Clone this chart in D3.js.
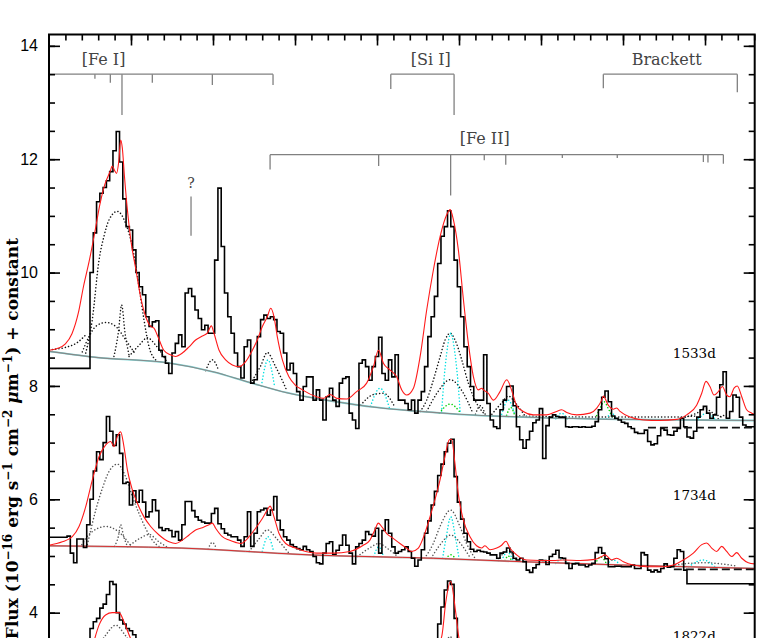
<!DOCTYPE html>
<html>
<head>
<meta charset="utf-8">
<script src="https://cdn.jsdelivr.net/npm/d3@7"></script>
<style>
  body { margin: 0; background: #fff; }
  svg { display: block; }
</style>
</head>
<body>
<svg id="chart" width="784" height="638"></svg>
<script>
// spectra are binned at 0.002 micron, first bin centred on 1.400 micron
const wave0 = 1.400, binStep = 0.002;

const flux1533 = [
  8.31,8.31,8.31,8.31,8.31,8.31,8.31,8.31,8.31,8.31,
  8.31,8.31,8.31,10.00,10.70,11.25,11.40,11.50,11.62,11.78,
  12.15,12.49,11.95,11.30,10.81,10.75,10.40,10.00,9.75,9.61,
  9.22,9.05,9.13,9.15,8.63,8.52,8.40,8.22,8.58,8.75,
  8.90,8.69,9.64,9.72,9.58,9.34,9.19,8.99,9.07,8.93,
  8.93,10.22,11.49,10.46,9.64,9.22,8.93,8.58,8.34,8.14,
  8.69,8.81,8.05,8.11,8.87,9.17,9.25,9.19,9.22,9.17,
  8.96,8.93,8.58,8.28,8.40,8.22,7.90,7.75,7.99,8.16,
  8.16,7.75,7.93,7.75,7.40,7.81,7.96,7.75,7.64,8.05,
  8.13,8.16,7.52,7.40,7.25,8.40,8.46,8.34,8.10,8.34,
  8.52,8.86,8.22,8.10,8.46,8.16,8.55,7.75,7.75,7.69,
  7.58,7.75,7.52,7.75,7.90,8.34,8.87,9.22,9.58,10.16,
  10.64,10.81,11.09,10.81,10.22,9.75,9.22,8.69,8.34,7.99,
  7.75,7.75,7.75,8.55,7.69,7.40,7.28,7.25,7.58,7.75,
  7.99,8.00,7.65,7.28,7.05,6.90,7.05,7.20,7.35,7.40,
  7.60,6.72,7.30,7.45,7.49,7.46,7.45,7.45,7.28,7.27,
  7.28,7.28,7.27,7.28,7.27,7.27,7.29,7.37,7.58,7.80,
  7.91,7.72,7.47,7.43,7.40,7.36,7.34,7.28,7.25,7.18,
  7.16,7.16,7.22,7.02,6.96,6.98,7.12,7.25,7.22,7.14,
  7.13,7.20,7.25,7.43,7.28,7.10,7.08,7.20,7.45,7.58,
  7.64,7.52,7.43,7.49,7.80,8.02,8.25,7.43,7.55,7.84,
  7.80,7.45,7.31,7.28,7.28,7.28
];

const flux1734 = [
  5.33,5.33,5.33,5.33,5.33,5.33,5.35,5.05,4.88,5.30,
  5.30,5.15,5.55,6.00,6.50,6.84,6.70,7.00,7.46,7.20,
  6.95,7.14,6.81,6.28,6.30,5.90,6.15,5.95,6.16,5.95,
  5.69,5.78,5.99,5.80,5.50,5.45,5.48,5.45,5.34,5.43,
  5.28,5.55,5.96,5.96,5.80,5.69,5.63,5.60,5.58,5.58,
  5.75,5.84,5.57,5.48,5.40,5.37,5.34,5.34,5.28,5.17,
  5.34,5.78,5.17,5.40,5.78,5.81,5.84,5.72,5.81,6.05,
  5.63,5.46,5.34,5.28,5.20,5.16,5.13,5.11,5.17,5.11,
  5.08,4.99,4.88,4.86,5.05,5.22,5.25,5.03,5.10,5.19,
  5.37,5.19,5.05,4.86,5.16,5.22,5.28,5.43,5.38,5.35,
  5.49,5.05,5.45,5.64,5.40,5.16,5.05,5.08,5.11,5.16,
  5.08,4.96,4.82,4.93,5.11,5.40,5.62,5.90,6.14,6.42,
  6.62,6.84,6.99,7.06,6.40,5.95,5.65,5.40,5.25,5.12,
  5.08,5.10,5.08,5.07,5.05,5.02,5.02,4.96,5.05,5.07,
  5.14,5.07,4.96,4.93,4.96,4.90,4.75,4.71,4.79,4.85,
  4.93,4.92,4.85,4.99,5.03,5.10,4.97,4.96,4.87,4.78,
  4.86,4.87,4.84,4.84,4.81,4.84,4.87,5.06,5.15,5.05,
  4.95,4.81,4.81,4.82,4.82,4.81,4.81,4.81,4.84,4.78,
  4.78,5.06,5.02,4.75,4.72,4.75,4.72,4.78,4.86,4.80,
  4.81,4.96,5.11,5.08,4.75,4.51,4.51,4.51,4.51,4.51,
  4.51,4.51,4.51,4.51,4.51,4.51,4.51,4.51,4.51,4.51,
  4.51,4.51,4.51,4.51,4.51,4.51
];

// 1822d: only the two peaks reach into the visible window
const spec1822a = [[1.424,3.45],[1.426,3.72],[1.428,3.84],[1.430,3.90],[1.432,4.08],[1.434,4.15],[1.436,4.32],[1.438,4.55],[1.440,4.50],[1.442,4.00],[1.444,3.87],[1.446,3.80],[1.448,3.72],[1.450,3.68],[1.452,3.61],[1.454,3.45]];
const spec1822b = [[1.636,3.45],[1.638,3.80],[1.640,4.10],[1.642,4.40],[1.644,4.56],[1.646,4.50],[1.648,3.90],[1.650,3.45]];

// fitted model (red)
const model1533 = [[1.400,8.63],[1.405,8.66],[1.410,8.74],[1.414,8.92],[1.418,9.30],[1.421,9.75],[1.4245,10.20],[1.428,10.72],[1.431,11.20],[1.434,11.55],[1.4375,11.80],[1.4385,11.88],[1.4400,11.80],[1.4412,11.75],[1.4425,11.95],[1.4437,12.34],[1.4447,12.20],[1.4460,11.70],[1.4480,11.05],[1.4500,10.55],[1.4530,10.05],[1.4560,9.55],[1.4590,9.22],[1.4620,9.05],[1.4640,9.02],[1.4660,8.90],[1.4700,8.63],[1.4740,8.55],[1.4772,8.52],[1.4813,8.58],[1.4854,8.69],[1.4894,8.81],[1.4935,8.88],[1.4965,8.93],[1.4990,9.06],[1.5006,8.93],[1.5037,8.63],[1.5077,8.46],[1.5118,8.37],[1.5159,8.34],[1.5199,8.43],[1.5240,8.63],[1.5270,8.81],[1.5301,9.05],[1.5331,9.22],[1.5352,9.37],[1.5372,9.22],[1.5392,8.87],[1.5423,8.46],[1.5463,8.16],[1.5500,8.02],[1.5545,7.93],[1.5630,7.81],[1.5673,7.78],[1.5714,7.85],[1.5755,7.78],[1.5815,7.77],[1.5876,7.90],[1.5937,8.05],[1.5978,8.34],[1.6009,8.63],[1.6039,8.40],[1.6080,8.28],[1.6120,8.16],[1.6151,7.93],[1.6181,7.84],[1.6222,7.96],[1.6263,8.52],[1.6303,9.34],[1.6344,10.05],[1.6385,10.64],[1.6425,11.02],[1.6446,11.11],[1.6466,10.93],[1.6496,10.40],[1.6527,9.52],[1.6557,8.75],[1.6588,8.16],[1.6618,7.93],[1.6639,7.96],[1.6649,7.93],[1.6679,7.87],[1.6710,7.75],[1.6750,7.90],[1.6791,8.11],[1.6833,7.81],[1.6850,7.66],[1.6892,7.55],[1.6953,7.49],[1.7035,7.49],[1.7095,7.55],[1.7126,7.58],[1.7157,7.53],[1.7218,7.49],[1.7299,7.52],[1.7340,7.61],[1.7370,7.75],[1.7380,7.82],[1.7410,7.66],[1.7441,7.59],[1.7461,7.61],[1.7482,7.55],[1.7543,7.45],[1.7624,7.40],[1.7726,7.39],[1.7827,7.41],[1.7888,7.49],[1.7949,7.66],[1.7980,7.87],[1.8006,8.08],[1.8030,7.99],[1.8055,7.84],[1.8081,7.90],[1.8106,7.99],[1.8132,7.84],[1.8152,7.81],[1.8177,7.96],[1.8197,8.00],[1.8224,7.81],[1.8254,7.58],[1.8285,7.52],[1.8311,7.49]];

const model1734 = [[1.4000,5.19],[1.4081,5.25],[1.4142,5.34],[1.4183,5.52],[1.4224,5.87],[1.4264,6.34],[1.4305,6.75],[1.4346,6.96],[1.4376,7.02],[1.4396,6.93],[1.4417,7.11],[1.4437,7.19],[1.4457,6.93],[1.4478,6.52],[1.4508,6.17],[1.4539,5.93],[1.4579,5.69],[1.4620,5.52],[1.4671,5.37],[1.4732,5.25],[1.4772,5.22],[1.4813,5.28],[1.4854,5.37],[1.4894,5.46],[1.4935,5.50],[1.4976,5.55],[1.4996,5.58],[1.5016,5.49],[1.5057,5.34],[1.5098,5.28],[1.5138,5.24],[1.5169,5.22],[1.5220,5.34],[1.5260,5.49],[1.5301,5.66],[1.5331,5.81],[1.5348,5.88],[1.5372,5.69],[1.5402,5.40],[1.5443,5.22],[1.5504,5.14],[1.5565,5.08],[1.5632,5.05],[1.5733,5.05],[1.5835,5.08],[1.5916,5.19],[1.5957,5.28],[1.5987,5.46],[1.6008,5.58],[1.6028,5.52],[1.6058,5.40],[1.6099,5.31],[1.6140,5.22],[1.6180,5.14],[1.6211,5.08],[1.6252,5.14],[1.6292,5.40],[1.6323,5.69],[1.6353,5.99],[1.6384,6.34],[1.6414,6.75],[1.6441,7.05],[1.6455,7.06],[1.6475,6.64],[1.6495,6.11],[1.6526,5.64],[1.6567,5.34],[1.6607,5.18],[1.6638,5.14],[1.6658,5.18],[1.6689,5.11],[1.6730,5.14],[1.6760,5.19],[1.6786,5.26],[1.6810,5.14],[1.6851,5.02],[1.6912,4.93],[1.7075,4.92],[1.7136,4.93],[1.7238,4.92],[1.7329,4.94],[1.7370,4.99],[1.7390,5.02],[1.7431,4.93],[1.7461,4.96],[1.7502,4.90],[1.7563,4.84],[1.7644,4.81],[1.7746,4.81],[1.7807,4.84],[1.7868,4.93],[1.7929,5.05],[1.7980,5.20],[1.8010,5.23],[1.8041,5.14],[1.8071,5.08],[1.8102,5.17],[1.8132,5.08],[1.8163,4.99],[1.8193,5.06],[1.8224,4.96],[1.8264,4.88],[1.8303,4.86]];

const model1822a = [[1.4270,3.45],[1.4305,3.78],[1.4345,3.96],[1.4386,4.00],[1.4427,4.00],[1.4457,3.84],[1.4488,3.61],[1.4510,3.45]];
const model1822b = [[1.6375,3.45],[1.6396,3.60],[1.6419,4.18],[1.6449,4.55],[1.6480,4.00],[1.6500,3.55],[1.6510,3.45]];

// continua
const cont1533 = [[1.400,8.61],[1.430,8.50],[1.472,8.41],[1.500,8.25],[1.5225,8.06],[1.545,7.88],[1.573,7.73],[1.600,7.62],[1.622,7.56],[1.650,7.50],[1.700,7.44],[1.750,7.41],[1.8303,7.39]];
const cont1734 = [[1.400,5.18],[1.481,5.14],[1.5585,5.02],[1.6343,4.96],[1.6872,4.90],[1.750,4.84],[1.8303,4.78]];

// dashed reference levels at the red end
const dash1533 = [[1.7652,7.265],[1.8303,7.265]];
const dash1734 = [[1.7810,4.765],[1.8303,4.765]];

// individual line components (dotted)
const black1533 = [
  [[1.4224,8.58],[1.4264,9.17],[1.4305,10.22],[1.4335,10.64],[1.4366,10.93],[1.4417,11.08],[1.4467,10.87],[1.4508,10.46],[1.4549,9.75],[1.4579,9.17],[1.4610,8.69],[1.4650,8.46]],
  [[1.4203,8.60],[1.4244,8.87],[1.4285,9.05],[1.4346,9.12],[1.4407,9.05],[1.4468,8.81],[1.4529,8.55]],
  [[1.4396,8.52],[1.4423,8.95],[1.4443,9.43],[1.4463,8.95],[1.4490,8.52]],
  [[1.4488,8.52],[1.4550,8.72],[1.4600,8.85],[1.4650,8.72],[1.4720,8.42]],
  [[1.4000,8.64],[1.4100,8.68],[1.4170,8.76],[1.4224,8.90]],
  [[1.4955,8.27],[1.4996,8.46],[1.5035,8.27]],
  [[1.5230,8.05],[1.5290,8.35],[1.5331,8.59],[1.5380,8.35],[1.5450,7.92]],
  [[1.5900,7.66],[1.5980,7.85],[1.6040,7.87],[1.6110,7.62]],
  [[1.6263,7.55],[1.6303,7.75],[1.6344,8.11],[1.6385,8.52],[1.6415,8.81],[1.6446,8.93],[1.6476,8.81],[1.6517,8.46],[1.6557,8.05],[1.6608,7.69],[1.6650,7.52]],
  [[1.6303,7.55],[1.6365,7.87],[1.6446,8.11],[1.6527,7.87],[1.6580,7.55]],
  [[1.6600,7.50],[1.6630,7.65],[1.6660,7.50]],
  [[1.6700,7.50],[1.6760,7.70],[1.6800,7.82],[1.6850,7.68],[1.6900,7.48]],
  [[1.6850,7.47],[1.7300,7.45],[1.7800,7.45],[1.7950,7.47]],
  [[1.7880,7.45],[1.7950,7.52],[1.8000,7.60],[1.8050,7.52],[1.8100,7.45]],
  [[1.8080,7.42],[1.8110,7.48],[1.8140,7.42]]
];
const cyan1533 = [
  [[1.5295,8.00],[1.5335,8.46],[1.5375,8.00]],
  [[1.5960,7.64],[1.6019,7.96],[1.6075,7.62]],
  [[1.6394,7.54],[1.6405,7.99],[1.6425,8.58],[1.6450,8.93],[1.6475,8.58],[1.6496,7.99],[1.6507,7.54]],
  [[1.6760,7.50],[1.6800,7.75],[1.6840,7.50]],
  [[1.7090,7.42],[1.7125,7.52],[1.7160,7.42]],
  [[1.7400,7.42],[1.7430,7.52],[1.7460,7.42]],
  [[1.7960,7.42],[1.8010,7.52],[1.8060,7.42]]
];
const green1533 = [
  [[1.6380,7.52],[1.6446,7.68],[1.6510,7.52]],
  [[1.6790,7.48],[1.6815,7.62],[1.6840,7.48]],
  [[1.7330,7.42],[1.7360,7.60],[1.7385,7.72],[1.7410,7.60],[1.7440,7.42]]
];
const black1734 = [
  [[1.4234,5.20],[1.4285,5.81],[1.4325,6.19],[1.4366,6.49],[1.4417,6.62],[1.4467,6.40],[1.4508,6.05],[1.4549,5.75],[1.4589,5.49],[1.4630,5.28],[1.4680,5.15]],
  [[1.4200,5.20],[1.4244,5.38],[1.4346,5.52],[1.4427,5.42],[1.4500,5.18]],
  [[1.4400,5.17],[1.4423,5.35],[1.4437,5.55],[1.4455,5.35],[1.4478,5.17]],
  [[1.4480,5.16],[1.4560,5.32],[1.4610,5.38],[1.4670,5.25],[1.4730,5.14]],
  [[1.4970,5.12],[1.4996,5.24],[1.5022,5.12]],
  [[1.5220,5.08],[1.5280,5.30],[1.5331,5.46],[1.5390,5.30],[1.5460,5.06]],
  [[1.5880,4.99],[1.5960,5.15],[1.6010,5.22],[1.6070,5.12],[1.6130,4.98]],
  [[1.6290,4.96],[1.6343,5.22],[1.6384,5.52],[1.6449,5.81],[1.6506,5.52],[1.6546,5.22],[1.6600,4.95]],
  [[1.6330,4.96],[1.6380,5.18],[1.6450,5.37],[1.6520,5.18],[1.6570,4.96]],
  [[1.6740,4.92],[1.6795,5.10],[1.6850,4.92]],
  [[1.7800,4.83],[1.7900,4.87],[1.8000,4.88],[1.8100,4.86],[1.8200,4.82]]
];
const cyan1734 = [
  [[1.5300,5.08],[1.5335,5.34],[1.5370,5.08]],
  [[1.5980,4.99],[1.6010,5.16],[1.6040,4.99]],
  [[1.6400,4.96],[1.6420,5.30],[1.6450,5.69],[1.6480,5.30],[1.6500,4.96]],
  [[1.6760,4.92],[1.6795,5.07],[1.6830,4.92]],
  [[1.7090,4.87],[1.7125,4.95],[1.7160,4.87]],
  [[1.7400,4.85],[1.7440,4.93],[1.7480,4.85]],
  [[1.7900,4.81],[1.7990,4.93],[1.8060,4.81]]
];
const green1734 = [
  [[1.6420,4.95],[1.6450,5.02],[1.6480,4.95]],
  [[1.6780,4.92],[1.6800,5.00],[1.6820,4.92]],
  [[1.7330,4.86],[1.7365,4.98],[1.7400,4.86]]
];
const black1822 = [
  [[1.4310,3.45],[1.4350,3.62],[1.4407,3.78],[1.4460,3.62],[1.4500,3.45]],
  [[1.6420,3.45],[1.6445,3.58],[1.6470,3.45]]
];

// line identifications: [wavelength, lower end of tick]
const feIBar = [1.400, 1.5366], feITicks = [[1.4280,13.42],[1.4374,13.35],[1.4445,12.78],[1.4630,13.35],[1.4996,13.31],[1.5366,13.31]];
const siIBar = [1.6084, 1.6470], siITicks = [[1.6084,13.24],[1.6470,12.78]];
const brBar = [1.7380, 1.8197], brTicks = [[1.7380,13.25],[1.8197,13.18]];
const feIIBar = [1.5348, 1.8112], feIITicks = [[1.5348,11.82],[1.6010,11.88],[1.6449,11.36],[1.6654,11.98],[1.6785,11.90],[1.7130,12.02],[1.7465,12.02],[1.7990,11.95],[1.8018,11.94],[1.8112,11.92]];
const upperLevel = 13.5, feIILevel = 12.08;
const unknownLine = [1.4866, 11.34, 10.65];

const epochLabels = ["1533d", "1734d", "1822d"];
const epochLabelY = [8.49, 5.99, 3.50];

const yMajor = [0, 2, 4, 6, 8, 10, 12, 14];

// ---------------------------------------------------------------
const svg = d3.select("#chart");
const padL = 49, padR = 754.7, padT = 34.5;

const x = d3.scaleLinear().domain([1.40, 1.8303]).range([padL, padR]);
const y = d3.scaleLinear().domain([0, 14.2]).range([839.4, padT]);
const padB = y(0);

svg.append("defs").append("clipPath").attr("id", "plotclip")
  .append("rect").attr("x", padL).attr("y", padT).attr("width", padR - padL).attr("height", padB - padT);

const plot = svg.append("g").attr("clip-path", "url(#plotclip)");

const smooth = d3.line().x(d => x(d[0])).y(d => y(d[1])).curve(d3.curveMonotoneX);
const straight = d3.line().x(d => x(d[0])).y(d => y(d[1]));
const hist = d3.line().x((d, i) => x(wave0 + i * binStep)).y(d => y(d)).curve(d3.curveStep);
const histPts = d3.line().x(d => x(d[0])).y(d => y(d[1])).curve(d3.curveStep);

function dotted(list, color) {
  plot.append("g").selectAll("path").data(list).enter().append("path")
    .attr("d", smooth)
    .attr("fill", "none")
    .attr("stroke", color)
    .attr("stroke-width", 1.5)
    .attr("stroke-linecap", "round")
    .attr("stroke-dasharray", "0.1 3.2");
}

dotted(black1533, "#111");
dotted(cyan1533, "#00e0e0");
dotted(green1533, "#00d000");
dotted(black1734, "#555");
dotted(cyan1734, "#00e0e0");
dotted(green1734, "#00d000");
dotted(black1822, "#555");

// continua
plot.append("path").attr("d", smooth(cont1533)).attr("fill", "none").attr("stroke", "#7fd6d6").attr("stroke-width", 1.8);
plot.append("path").attr("d", smooth(cont1533)).attr("fill", "none").attr("stroke", "#888").attr("stroke-width", 1.1);
plot.append("path").attr("d", smooth(cont1734)).attr("fill", "none").attr("stroke", "#aaa").attr("stroke-width", 1.8);
plot.append("path").attr("d", smooth(cont1734)).attr("fill", "none").attr("stroke", "#e02020").attr("stroke-width", 0.9);

// observed spectra
[flux1533, flux1734].forEach(f => {
  plot.append("path").attr("d", hist(f)).attr("fill", "none").attr("stroke", "#000").attr("stroke-width", 1.6);
});
[spec1822a, spec1822b].forEach(s => {
  plot.append("path").attr("d", histPts(s)).attr("fill", "none").attr("stroke", "#000").attr("stroke-width", 1.6);
});

// models
[model1533, model1734, model1822a, model1822b].forEach(m => {
  plot.append("path").attr("d", smooth(m)).attr("fill", "none").attr("stroke", "#ff1a1a").attr("stroke-width", 1.1);
});

// dashed levels
[dash1533, dash1734].forEach(d => {
  plot.append("path").attr("d", straight(d)).attr("fill", "none").attr("stroke", "#111")
    .attr("stroke-width", 1.8).attr("stroke-dasharray", "8 4");
});

// line identification brackets
const ids = svg.append("g").attr("stroke", "#808080").attr("stroke-width", 1.3).attr("fill", "none");
function bracket(bar, level, ticks) {
  ids.append("line").attr("x1", x(bar[0])).attr("x2", x(bar[1])).attr("y1", y(level)).attr("y2", y(level));
  ticks.forEach(t => {
    ids.append("line").attr("x1", x(t[0])).attr("x2", x(t[0])).attr("y1", y(level)).attr("y2", y(t[1]));
  });
}
bracket(feIBar, upperLevel, feITicks);
bracket(siIBar, upperLevel, siITicks);
bracket(brBar, upperLevel, brTicks);
bracket(feIIBar, feIILevel, feIITicks);
ids.append("line").attr("x1", x(unknownLine[0])).attr("x2", x(unknownLine[0]))
  .attr("y1", y(unknownLine[1])).attr("y2", y(unknownLine[2]));

const idText = svg.append("g").attr("font-family", "DejaVu Serif").attr("font-size", 16)
  .attr("fill", "#444").attr("text-anchor", "middle");
idText.append("text").attr("x", x(1.4333)).attr("y", y(13.67)).text("[Fe I]");
idText.append("text").attr("x", x(1.6328)).attr("y", y(13.67)).text("[Si I]");
idText.append("text").attr("x", x(1.7766)).attr("y", y(13.67)).text("Brackett");
idText.append("text").attr("x", x(1.6657)).attr("y", y(12.26)).text("[Fe II]");
idText.append("text").attr("x", x(unknownLine[0])).attr("y", y(11.49)).attr("font-size", 14).text("?");

// epoch labels
svg.append("g").selectAll("text").data(epochLabels).enter().append("text")
  .attr("x", x(1.7935)).attr("y", (d, i) => y(epochLabelY[i]))
  .attr("text-anchor", "middle")
  .attr("font-family", "DejaVu Serif").attr("font-size", 13.5).attr("fill", "#000")
  .text(d => d);

// axes
function styleAxis(g) {
  g.select(".domain").remove();
  g.selectAll(".tick line").attr("stroke", "#000").attr("stroke-width", 1.6);
  g.selectAll(".tick text").attr("font-family", "Liberation Sans").attr("font-size", 16).attr("fill", "#000");
}
const xMajor = d3.range(1.45, 1.801, 0.05);
const xMinor = d3.range(1.41, 1.831, 0.01);
const yMinor = d3.range(0, 14.1, 0.5);

svg.append("g").attr("transform", `translate(0,${padT})`)
  .call(d3.axisTop(x).tickValues(xMinor).tickSizeInner(-6).tickSizeOuter(0).tickFormat("")).call(styleAxis);
svg.append("g").attr("transform", `translate(0,${padT})`)
  .call(d3.axisTop(x).tickValues(xMajor).tickSizeInner(-11).tickSizeOuter(0).tickFormat("")).call(styleAxis);

svg.append("g").attr("transform", `translate(${padL},0)`)
  .call(d3.axisLeft(y).tickValues(yMinor).tickSizeInner(-6).tickSizeOuter(0).tickFormat("")).call(styleAxis);
svg.append("g").attr("transform", `translate(${padL},0)`)
  .call(d3.axisLeft(y).tickValues(yMajor).tickSizeInner(-11).tickSizeOuter(0).tickPadding(11).tickFormat(d3.format("d"))).call(styleAxis);

svg.append("g").attr("transform", `translate(${padR},0)`)
  .call(d3.axisRight(y).tickValues(yMinor).tickSizeInner(-6).tickSizeOuter(0).tickFormat("")).call(styleAxis);
svg.append("g").attr("transform", `translate(${padR},0)`)
  .call(d3.axisRight(y).tickValues(yMajor).tickSizeInner(-11).tickSizeOuter(0).tickFormat("")).call(styleAxis);

// frame
svg.append("rect").attr("x", padL).attr("y", padT).attr("width", padR - padL).attr("height", padB - padT)
  .attr("fill", "none").attr("stroke", "#000").attr("stroke-width", 2);

// y label
const yl = svg.append("text")
  .attr("transform", "translate(18,238) rotate(-90)")
  .attr("text-anchor", "end")
  .attr("font-family", "DejaVu Serif").attr("font-weight", "bold").attr("font-size", 17).attr("fill", "#000");
yl.append("tspan").text("Flux (10");
yl.append("tspan").attr("dy", -6).attr("font-size", 12).text("\u221216");
yl.append("tspan").attr("dy", 6).text(" erg s");
yl.append("tspan").attr("dy", -6).attr("font-size", 12).text("\u22121");
yl.append("tspan").attr("dy", 6).text(" cm");
yl.append("tspan").attr("dy", -6).attr("font-size", 12).text("\u22122");
yl.append("tspan").attr("dy", 6).text(" ");
yl.append("tspan").attr("font-style", "italic").text("\u03bc");
yl.append("tspan").text("m");
yl.append("tspan").attr("dy", -6).attr("font-size", 12).text("\u22121");
yl.append("tspan").attr("dy", 6).text(") + constant");
</script>
</body>
</html>
